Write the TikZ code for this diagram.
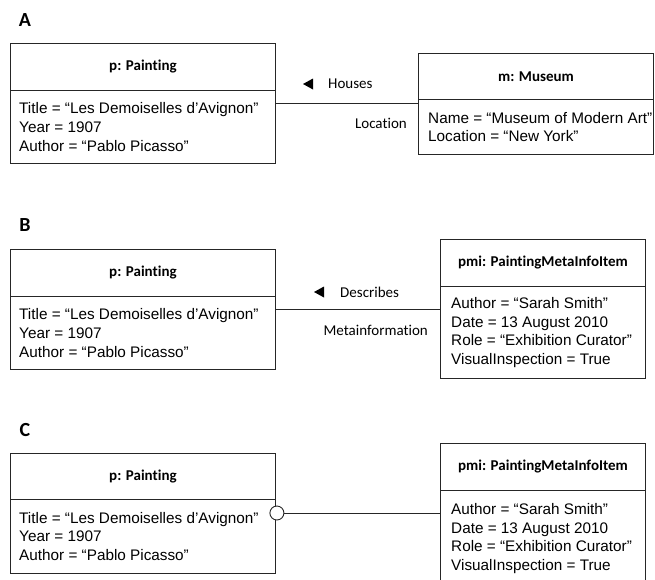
\documentclass[tikz,border=0pt]{standalone}
\usepackage{fontspec}
\setmainfont{Liberation Sans}
\newfontfamily\calfont[Ligatures=NoCommon]{Carlito}
\usetikzlibrary{calc}
\begin{document}
\begin{tikzpicture}[x=1pt,y=-1pt,
  box/.style={draw=black!85, line width=0.9pt, inner sep=0pt, anchor=north west},
  ttl/.style={box, font=\calfont\bfseries\fontsize{15}{18}\selectfont, align=center},
  abox/.style={box},
  atext/.style={anchor=west, inner sep=0pt, align=left, font=\fontsize{15.3}{18.6}\selectfont},
  panel/.style={font=\calfont\bfseries\fontsize{20}{24}\selectfont, inner sep=0pt},
  lbl/.style={font=\calfont\fontsize{15}{18}\selectfont, inner sep=0pt},
  conn/.style={draw=black!85, line width=0.9pt},
  tri/.style={fill=black}]
\path[use as bounding box] (0,0) rectangle (655,579);
\clip (0,0) rectangle (655,579);

% ---------- Panel A ----------
\node[panel] (lA) at (25,20) {A};
\node[ttl, minimum width=265, minimum height=47] (pAt) at (10,43) {p: Painting};
\node[abox, minimum width=265, minimum height=73] (pAa) at (10,90) {};
\node[atext] (pAx) at ($(pAa.west)+(9,0)$) {Title = “Les Demoiselles d’Avignon”\\Year = 1907\\Author = “Pablo Picasso”};

\node[ttl, minimum width=235, minimum height=46] (mAt) at (418,53) {m: Museum};
\node[abox, minimum width=235, minimum height=55] (mAa) at (418,99) {};
\node[atext] (mAx) at ($(mAa.west)+(10,0)$) {Name = “Museum of Modern Art”\\Location = “New York”};

\coordinate (a1) at ($(pAa.north east)+(0,13)$);
\draw[conn] (a1) -- (a1 -| mAa.west);
\node[lbl, anchor=west] (hA) at (328,84) {Houses};
\fill[tri] ($(hA.west)+(-25,0)$) -- ++(10,-5.5) -- ++(0,11) -- cycle;
\node[lbl, anchor=east] (locA) at (407,123) {Location};

% ---------- Panel B ----------
\node[panel] (lB) at (25,225) {B};
\node[ttl, minimum width=265, minimum height=47] (pBt) at (10,249) {p: Painting};
\node[abox, minimum width=265, minimum height=73] (pBa) at (10,296) {};
\node[atext] (pBx) at ($(pBa.west)+(9,0)$) {Title = “Les Demoiselles d’Avignon”\\Year = 1907\\Author = “Pablo Picasso”};

\node[ttl, minimum width=205, minimum height=47] (qBt) at (440,239) {pmi: PaintingMetaInfoItem};
\node[abox, minimum width=205, minimum height=92] (qBa) at (440,286) {};
\node[atext] (qBx) at ($(qBa.west)+(11,0)$) {Author = “Sarah Smith”\\Date = 13 August 2010\\Role = “Exhibition Curator”\\VisualInspection = True};

\coordinate (b1) at ($(pBa.north east)+(0,13)$);
\draw[conn] (b1) -- (b1 -| qBa.west);
\node[lbl, anchor=west] (dB) at (340,292) {Describes};
\fill[tri] ($(dB.west)+(-26,0)$) -- ++(10,-5.5) -- ++(0,11) -- cycle;
\node[lbl, anchor=east] (miB) at (428,330) {Metainformation};

% ---------- Panel C ----------
\node[panel] (lC) at (25,430) {C};
\node[ttl, minimum width=265, minimum height=46] (pCt) at (10,453) {p: Painting};
\node[abox, minimum width=265, minimum height=74] (pCa) at (10,499) {};
\node[atext] (pCx) at ($(pCa.west)+(9,0)$) {Title = “Les Demoiselles d’Avignon”\\Year = 1907\\Author = “Pablo Picasso”};

\node[ttl, minimum width=205, minimum height=47] (qCt) at (440,443) {pmi: PaintingMetaInfoItem};
\node[abox, minimum width=205, minimum height=96] (qCa) at (440,490) {};
\node[atext] (qCx) at ($(qCa.west)+(11,0)$) {Author = “Sarah Smith”\\Date = 13 August 2010\\Role = “Exhibition Curator”\\VisualInspection = True};

\node[circle, draw=black!85, line width=0.9pt, fill=white, minimum size=14, inner sep=0pt] (cC) at ($(pCa.north east)+(1,14)$) {};
\draw[conn] (cC.east) -- (cC.east -| qCa.west);
\end{tikzpicture}
\end{document}
